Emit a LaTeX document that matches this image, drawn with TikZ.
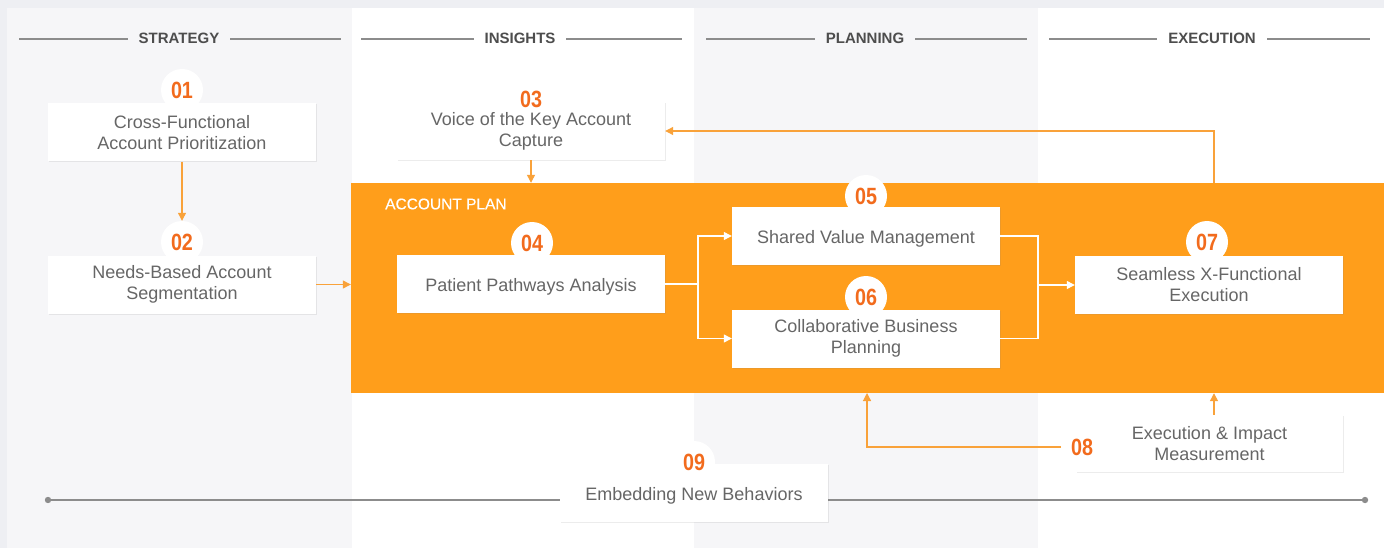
\documentclass[tikz,border=0pt]{standalone}
\usepackage{fontspec}
\setmainfont{Liberation Sans}
\newfontfamily\numfont[FakeStretch=0.84]{Liberation Sans}
\newfontfamily\medfont[FakeBold=0.35]{Liberation Sans}
\usetikzlibrary{arrows.meta,shadows,calc}
\definecolor{bgout}{HTML}{EEEFF3}
\definecolor{colgray}{HTML}{F6F6F8}
\definecolor{planor}{HTML}{FF9E1B}
\definecolor{numor}{HTML}{F26B1D}
\definecolor{lineor}{HTML}{F9A23A}
\definecolor{txt}{HTML}{666666}
\definecolor{hdr}{HTML}{4D4D4D}
\definecolor{hline}{HTML}{8C8C8C}
\begin{document}
\begin{tikzpicture}[x=1pt,y=-1pt,
  box/.style={fill=white, minimum width=268pt, minimum height=58pt, inner sep=0pt, align=center, text=txt, font=\fontsize{18}{21}\selectfont, drop shadow={shadow xshift=0.6pt, shadow yshift=-1pt, opacity=0.15}},
  single/.style={text height=15.9pt, text depth=1pt},
  numbg/.style={circle, fill=white, minimum size=42pt, inner sep=0pt},
  numtxt/.style={inner sep=0pt, text=numor, font=\numfont\bfseries\fontsize{23.5}{24}\selectfont},
  hdrlab/.style={inner xsep=11pt, inner ysep=7pt, text=hdr, font=\fontsize{15}{18}\selectfont\bfseries},
  hl/.style={draw=hline, line width=1.4pt},
  oarrow/.style={draw=lineor, line width=1.2pt, -{Triangle[length=8pt,width=8pt]}},
  warrow/.style={draw=white, line width=1.2pt, -{Triangle[length=8pt,width=8pt]}},
  wline/.style={draw=white, line width=1.2pt},
]
\useasboundingbox (0,0) rectangle (1384,548);
% backgrounds
\fill[bgout] (0,0) rectangle (1384,548);
\fill[colgray] (7,8) rectangle (352,548);
\fill[white] (352,8) rectangle (694,548);
\fill[colgray] (694,8) rectangle (1038,548);
\fill[white] (1038,8) rectangle (1384,548);
% headers
\draw[hl] (19,39) -- (341,39);
\node[hdrlab, fill=colgray] (h1) at (179,38) {STRATEGY};
\draw[hl] (361,39) -- (682,39);
\node[hdrlab, fill=white] (h2) at (520,38) {INSIGHTS};
\draw[hl] (706,39) -- (1027,39);
\node[hdrlab, fill=colgray] (h3) at (865,38) {PLANNING};
\draw[hl] (1049,39) -- (1370,39);
\node[hdrlab, fill=white] (h4) at (1212,38) {EXECUTION};
% account plan
\node[fill=planor, minimum width=1033pt, minimum height=210pt, inner sep=0pt] (plan) at (867.5,288) {};
\node[text=white, anchor=west, inner sep=0pt, font=\medfont\fontsize{15.5}{18}\selectfont] (plabel) at (385,204) {ACCOUNT PLAN};
% timeline
\coordinate (t1) at (48,500);
\coordinate (t2) at (1365,500);
\draw[draw=hline, line width=1.2pt] (t1) -- (t2);
\fill[hline] (t1) circle (3.2pt);
\fill[hline] (t2) circle (3.2pt);
% number backgrounds
\node[numbg] (c01) at (182,90) {};
\node[numbg] (c02) at (182,242) {};
\node[numbg] (c03) at (531,99) {};
\node[numbg] (c04) at (532,243) {};
\node[numbg] (c05) at (866,196) {};
\node[numbg] (c06) at (866,297) {};
\node[numbg] (c07) at (1207,242) {};
\node[numbg] (c08) at (1082,447) {};
\node[numbg] (c09) at (694,462) {};
% boxes
\node[box] (b01) at (182,132.5) {Cross-Functional\\Account Prioritization};
\node[box] (b02) at (182,284.5) {Needs-Based Account\\Segmentation};
\node[box] (b03) at (531,131) {Voice of the Key Account\\Capture};
\node[box, single] (b04) at (531,284) {Patient Pathways Analysis};
\node[box, single] (b05) at (866,236) {Shared Value Management};
\node[box] (b06) at (866,338.5) {Collaborative Business\\Planning};
\node[box] (b07) at (1209,284.5) {Seamless X-Functional\\Execution};
\node[box, minimum width=267pt, minimum height=57pt] (b08) at (1209.5,443.5) {Execution \& Impact\\Measurement};
\node[box, single] (b09) at (694,493) {Embedding New Behaviors};
% numbers
\node[numtxt] (n01) at (c01) {01};
\node[numtxt] (n02) at (c02) {02};
\node[numtxt] (n03) at (c03) {03};
\node[numtxt] (n04) at (c04) {04};
\node[numtxt] (n05) at (c05) {05};
\node[numtxt] (n06) at (c06) {06};
\node[numtxt] (n07) at (c07) {07};
\node[numtxt] (n08) at (c08) {08};
\node[numtxt] (n09) at (c09) {09};
% connectors
\draw[oarrow] (b01.south) -- (c02.north);
\draw[oarrow] (b02.east) -- (b02.east -| plan.west);
\draw[oarrow] (b03.south) -- (b03.south |- plan.north);
\coordinate (j1) at (698,284);
\draw[wline] (b04.east) -- (j1);
\draw[warrow] (j1) |- (b05.west);
\draw[warrow] (j1) |- (b06.west);
\coordinate (j2) at (1038,285);
\draw[wline] (b05.east) -| (j2) |- (b06.east);
\draw[warrow] (j2) -- (j2 -| b07.west);
\coordinate (p7) at (1214,183);
\draw[oarrow] (p7) |- (b03.east);
\draw[oarrow] (b08.north -| p7) -- (p7 |- plan.south);
\coordinate (p6) at (867,393);
\draw[oarrow] (c08.west) -| (p6);
\end{tikzpicture}
\end{document}
